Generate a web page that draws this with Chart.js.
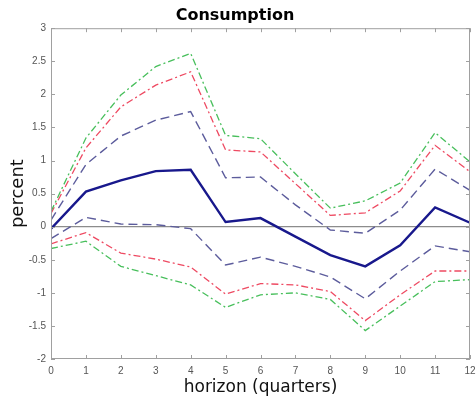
<!DOCTYPE html>
<html>
<head>
<meta charset="utf-8">
<script src="https://cdn.jsdelivr.net/npm/chart.js@4"></script>
<style>
  html, body { margin: 0; padding: 0; background: #fff; }
  #wrap { width: 476px; height: 401px; }
</style>
</head>
<body>
<div id="wrap"><canvas id="irf"></canvas></div>
<script>
// impulse response of consumption, horizon in quarters
const horizons = [0, 1, 2, 3, 4, 5, 6, 7, 8, 9, 10, 11, 12];
const median   = [-0.03, 0.53, 0.70, 0.84, 0.86, 0.07, 0.13, -0.15, -0.43, -0.60, -0.28, 0.29, 0.06];
const upper68  = [0.10, 0.94, 1.37, 1.61, 1.74, 0.74, 0.75, 0.33, -0.05, -0.10, 0.25, 0.87, 0.55];
const lower68  = [-0.18, 0.14, 0.04, 0.03, -0.03, -0.58, -0.46, -0.60, -0.76, -1.09, -0.67, -0.29, -0.38];
const upper90  = [0.20, 1.19, 1.81, 2.14, 2.34, 1.16, 1.13, 0.65, 0.17, 0.21, 0.54, 1.23, 0.83];
const lower90  = [-0.26, -0.09, -0.40, -0.49, -0.61, -1.02, -0.86, -0.88, -0.98, -1.42, -1.03, -0.67, -0.67];
const upper95  = [0.23, 1.34, 1.99, 2.42, 2.62, 1.38, 1.33, 0.80, 0.28, 0.39, 0.66, 1.42, 0.98];
const lower95  = [-0.33, -0.22, -0.60, -0.74, -0.88, -1.22, -1.03, -1.00, -1.10, -1.57, -1.20, -0.83, -0.80];
const yTicks   = [-2, -1.5, -1, -0.5, 0, 0.5, 1, 1.5, 2, 2.5, 3];

const NAVY = '#18188c', SLATE = '#5c5c9c', RED = '#ee4a62', GREEN = '#48bf5c';
const FRAME = '#a0a0a0';

function pts(vals) {
    return vals.map((v, i) => ({ x: horizons[i], y: v }));
}
function band(vals, color, dash, width) {
    return {
        data: pts(vals),
        borderColor: color,
        borderWidth: width,
        borderDash: dash,
        pointRadius: 0,
        fill: false,
        tension: 0
    };
}

// matlab style box with inward ticks on all four sides
const boxPlugin = {
    id: 'box',
    afterDatasetsDraw(chart) {
        const { ctx, chartArea: a, scales } = chart;
        const len = 4;
        ctx.save();
        ctx.strokeStyle = FRAME;
        ctx.lineWidth = 1;
        ctx.strokeRect(a.left + 0.5, a.top + 0.5, a.right - a.left - 1, a.bottom - a.top - 1);
        ctx.beginPath();
        horizons.forEach(h => {
            const px = Math.round(scales.x.getPixelForValue(h)) + 0.5;
            ctx.moveTo(px, a.bottom); ctx.lineTo(px, a.bottom - len);
            ctx.moveTo(px, a.top); ctx.lineTo(px, a.top + len);
        });
        yTicks.forEach(t => {
            const py = Math.round(scales.y.getPixelForValue(t)) + 0.5;
            ctx.moveTo(a.left, py); ctx.lineTo(a.left + len, py);
            ctx.moveTo(a.right, py); ctx.lineTo(a.right - len, py);
        });
        ctx.stroke();
        ctx.restore();
    }
};

new Chart(document.getElementById('irf'), {
    type: 'line',
    data: {
        datasets: [
            band(upper95, GREEN, [7, 3, 2, 3], 1.3),
            band(lower95, GREEN, [7, 3, 2, 3], 1.3),
            band(upper90, RED, [7, 3, 2, 3], 1.3),
            band(lower90, RED, [7, 3, 2, 3], 1.3),
            band(upper68, SLATE, [9, 5], 1.4),
            band(lower68, SLATE, [9, 5], 1.4),
            band(median, NAVY, [], 2.4)
        ]
    },
    options: {
        responsive: true,
        maintainAspectRatio: false,
        animation: false,
        layout: { padding: { left: 0, right: 6, top: 0, bottom: 0 } },
        plugins: {
            legend: { display: false },
            tooltip: { enabled: false },
            title: {
                display: true,
                text: 'Consumption',
                color: '#000',
                font: { family: 'DejaVu Sans', size: 16, weight: 'bold' },
                padding: { top: 6, bottom: 3 }
            }
        },
        scales: {
            x: {
                type: 'linear',
                min: 0,
                max: 12,
                afterBuildTicks: s => { s.ticks = horizons.map(v => ({ value: v })); },
                afterFit: s => { s.height = 42; s.paddingLeft = 0; s.paddingRight = 0; },
                grid: { display: false, drawTicks: false },
                border: { display: false },
                ticks: {
                    color: '#555',
                    font: { family: 'Liberation Sans', size: 10 },
                    padding: 6,
                    maxRotation: 0,
                    autoSkip: false
                },
                title: {
                    display: true,
                    text: 'horizon (quarters)',
                    color: '#111',
                    font: { family: 'DejaVu Sans', size: 17 },
                    padding: { top: 2, bottom: 3 }
                }
            },
            y: {
                min: -2,
                max: 3,
                afterBuildTicks: s => { s.ticks = yTicks.map(v => ({ value: v })); },
                afterFit: s => { s.width = 51; },
                grid: {
                    drawTicks: false,
                    color: c => (c.tick && c.tick.value === 0 ? '#8c8c8c' : 'rgba(0,0,0,0)'),
                    lineWidth: 1.2
                },
                border: { display: false },
                ticks: {
                    color: '#555',
                    font: { family: 'Liberation Sans', size: 10 },
                    padding: 5,
                    autoSkip: false,
                    callback: v => String(v)
                },
                title: {
                    display: true,
                    text: 'percent',
                    color: '#111',
                    font: { family: 'DejaVu Sans', size: 18 },
                    padding: { top: 8, bottom: 0 }
                }
            }
        }
    },
    plugins: [boxPlugin]
});
</script>
</body>
</html>
